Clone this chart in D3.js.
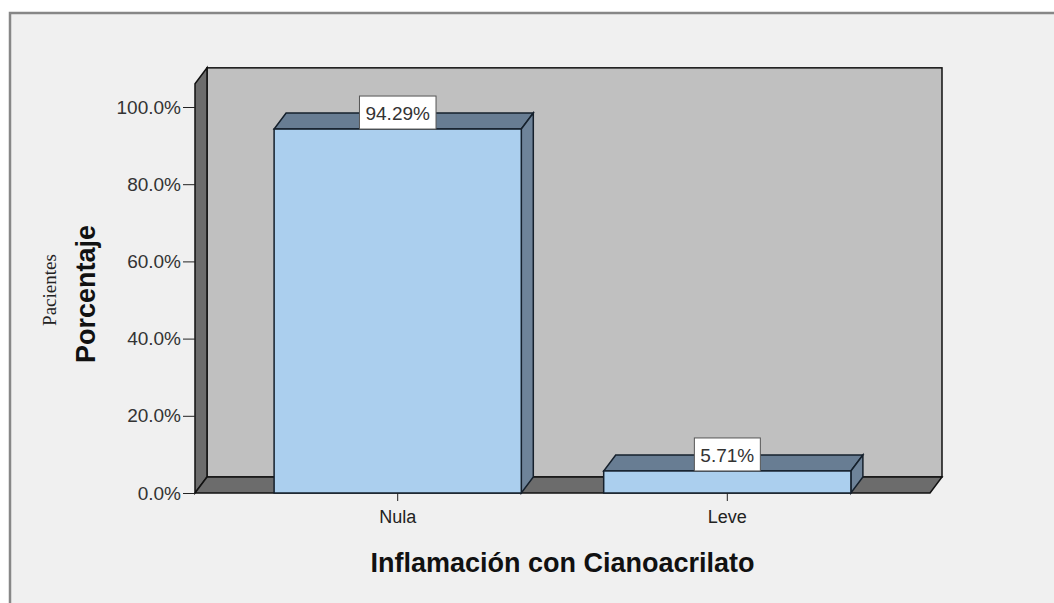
<!DOCTYPE html>
<html>
<head>
<meta charset="utf-8">
<script src="https://cdn.jsdelivr.net/npm/d3@7"></script>
<style>
  body { margin: 0; background: #fff; }
  svg { display: block; }
</style>
</head>
<body>
<script>
const categories = ["Nula", "Leve"];
const percentages = [0.9429, 0.0571];
const barLabels = ["94.29%", "5.71%"];
const yTicks = [0, 0.2, 0.4, 0.6, 0.8, 1.0];

function render() {
  const w = 1054;
  const h = 603;
  const left = 195, right = 930, bottom = 493, top = 107;
  const dx = 12, dy = 16;   // depth of the 3d look

  const svg = d3.select("body")
    .append("svg")
    .attr("width", w)
    .attr("height", h);

  // outer frame
  svg.append("rect")
    .attr("x", 10).attr("y", 13)
    .attr("width", w + 20).attr("height", h + 20)
    .attr("fill", "#f0f0f0")
    .attr("stroke", "#878787")
    .attr("stroke-width", 2.5);

  const xScale = d3.scaleBand()
    .domain(categories)
    .range([left, right])
    .paddingInner(0.25)
    .paddingOuter(0.24);

  const yScale = d3.scaleLinear()
    .domain([0, 1])
    .range([bottom, top]);

  const yMax = 1.06;
  const pt = (x, y) => x + "," + y;

  // back wall
  svg.append("rect")
    .attr("x", left + dx)
    .attr("y", yScale(yMax) - dy)
    .attr("width", right - left)
    .attr("height", bottom - yScale(yMax))
    .attr("fill", "#c0c0c0")
    .attr("stroke", "#111")
    .attr("stroke-width", 1.5);

  // left wall
  svg.append("polygon")
    .attr("points", [
      pt(left, bottom), pt(left, yScale(yMax)),
      pt(left + dx, yScale(yMax) - dy), pt(left + dx, bottom - dy)
    ].join(" "))
    .attr("fill", "#6c6c6c")
    .attr("stroke", "#111")
    .attr("stroke-width", 1.5);

  // floor
  svg.append("polygon")
    .attr("points", [
      pt(left, bottom), pt(right, bottom),
      pt(right + dx, bottom - dy), pt(left + dx, bottom - dy)
    ].join(" "))
    .attr("fill", "#6c6c6c")
    .attr("stroke", "#111")
    .attr("stroke-width", 1.5);

  // y axis
  const yAxis = d3.axisLeft(yScale)
    .tickValues(yTicks)
    .tickFormat(d3.format(".1%"))
    .tickSize(12)
    .tickPadding(2);

  const gy = svg.append("g")
    .attr("transform", "translate(" + left + ",0)")
    .call(yAxis);
  gy.select(".domain").remove();
  gy.selectAll(".tick line").attr("stroke", "#222");
  gy.selectAll(".tick text")
    .attr("fill", "#333")
    .style("font-family", "Arial, 'Liberation Sans', sans-serif")
    .style("font-size", "19px");

  // bars
  const data = categories.map((c, i) => ({ cat: c, value: percentages[i], label: barLabels[i] }));
  const bw = xScale.bandwidth();

  const bars = svg.selectAll("g.bar")
    .data(data)
    .enter()
    .append("g")
    .attr("class", "bar");

  bars.append("polygon")
    .attr("points", d => {
      const x0 = xScale(d.cat), y0 = yScale(d.value);
      return [pt(x0, y0), pt(x0 + bw, y0), pt(x0 + bw + dx, y0 - dy), pt(x0 + dx, y0 - dy)].join(" ");
    })
    .attr("fill", "#687d93")
    .attr("stroke", "#15202c")
    .attr("stroke-width", 1.5);

  bars.append("polygon")
    .attr("points", d => {
      const x1 = xScale(d.cat) + bw, y0 = yScale(d.value);
      return [pt(x1, y0), pt(x1 + dx, y0 - dy), pt(x1 + dx, bottom - dy), pt(x1, bottom)].join(" ");
    })
    .attr("fill", "#6e8399")
    .attr("stroke", "#15202c")
    .attr("stroke-width", 1.5);

  bars.append("rect")
    .attr("x", d => xScale(d.cat))
    .attr("y", d => yScale(d.value))
    .attr("width", bw)
    .attr("height", d => bottom - yScale(d.value))
    .attr("fill", "#abcfee")
    .attr("stroke", "#15202c")
    .attr("stroke-width", 1.5);

  // value labels
  const lab = bars.append("g")
    .attr("transform", d => "translate(" + (xScale(d.cat) + bw / 2) + "," + yScale(d.value) + ")");

  lab.append("text")
    .attr("text-anchor", "middle")
    .attr("y", -9)
    .attr("fill", "#333")
    .style("font-family", "Arial, 'Liberation Sans', sans-serif")
    .style("font-size", "19px")
    .text(d => d.label)
    .each(function () {
      const b = this.getBBox();
      d3.select(this.parentNode).insert("rect", "text")
        .attr("x", b.x - 6)
        .attr("y", -33)
        .attr("width", b.width + 12)
        .attr("height", 33)
        .attr("fill", "#fff")
        .attr("stroke", "#555")
        .attr("stroke-width", 1);
    });

  // x axis
  const xAxis = d3.axisBottom(xScale).tickSize(8).tickPadding(9);
  const gx = svg.append("g")
    .attr("transform", "translate(0," + bottom + ")")
    .call(xAxis);
  gx.select(".domain").remove();
  gx.selectAll(".tick line").attr("stroke", "#222");
  gx.selectAll(".tick text")
    .attr("fill", "#222")
    .style("font-family", "Arial, 'Liberation Sans', sans-serif")
    .style("font-size", "18px");

  // titles
  svg.append("text")
    .attr("x", (left + right) / 2)
    .attr("y", 572)
    .attr("text-anchor", "middle")
    .attr("fill", "#111")
    .style("font-family", "Arial, 'Liberation Sans', sans-serif")
    .style("font-weight", "bold")
    .style("font-size", "27px")
    .text("Inflamación con Cianoacrilato");

  svg.append("text")
    .attr("transform", "translate(95,294) rotate(-90)")
    .attr("text-anchor", "middle")
    .attr("fill", "#111")
    .style("font-family", "Arial, 'Liberation Sans', sans-serif")
    .style("font-weight", "bold")
    .style("font-size", "27px")
    .text("Porcentaje");

  svg.append("text")
    .attr("transform", "translate(56,290) rotate(-90)")
    .attr("text-anchor", "middle")
    .attr("fill", "#222")
    .style("font-family", "'Liberation Serif', 'Times New Roman', serif")
    .style("font-size", "19px")
    .text("Pacientes");
}

render();
</script>
</body>
</html>
